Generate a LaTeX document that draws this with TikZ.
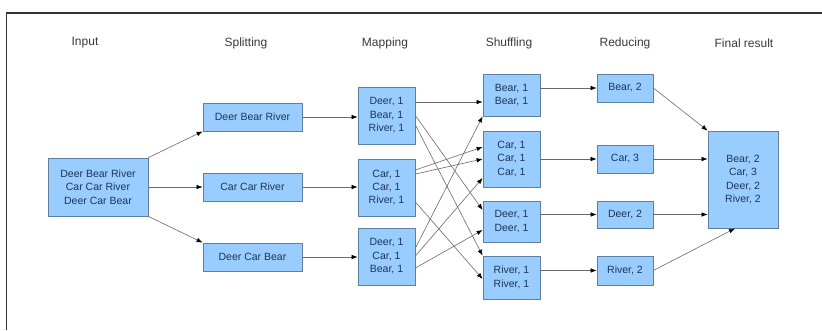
\documentclass[tikz,border=0pt]{standalone}
\usepackage{fontspec}
\setmainfont{Liberation Sans}
\usetikzlibrary{arrows.meta}
\definecolor{boxfill}{HTML}{99CCFF}
\definecolor{boxline}{HTML}{5F7F9F}
\definecolor{boxtext}{HTML}{1E3556}
\definecolor{titletext}{HTML}{3A3A3A}
\definecolor{arrowline}{HTML}{6A6A6A}
\tikzset{
  box/.style={draw=boxline, fill=boxfill, line width=0.8pt, inner sep=0pt, align=center,
    text=boxtext, font=\fontsize{10.5}{13.5}\selectfont},
  title/.style={text=titletext, font=\fontsize{12}{14}\selectfont, inner sep=0pt},
  arr/.style={draw=arrowline, line width=0.6pt, -{Latex[length=6pt,width=4.5pt,fill=black,color=black]}},
  frameline/.style={draw=black!80, line width=1.2pt}
}
\begin{document}
\begin{tikzpicture}[x=1pt,y=-1pt]
\useasboundingbox (0,0) rectangle (822,330);
\fill[white] (0,0) rectangle (822,330);
% frame (top and left edges)
\coordinate (fa) at (822,13);
\coordinate (fb) at (6.5,13);
\coordinate (fc) at (6.5,330);
\draw[frameline] (fa) -- (fb) -- (fc);
% titles
\node[title] (t1) at (85,43) {Input};
\node[title] (t2) at (246,43) {Splitting};
\node[title] (t3) at (385,43) {Mapping};
\node[title] (t4) at (509,43) {Shuffling};
\node[title] (t5) at (625,43) {Reducing};
\node[title] (t6) at (744,43) {Final result};
% input
\node[box, minimum width=100pt, minimum height=58pt] (in) at (98,187) {Deer Bear River\\Car Car River\\Deer Car Bear};
% splitting
\node[box, minimum width=99pt, minimum height=28pt] (sp1) at (252.5,117) {Deer Bear River};
\node[box, minimum width=99pt, minimum height=28pt] (sp2) at (252.5,187) {Car Car River};
\node[box, minimum width=99pt, minimum height=28pt] (sp3) at (252.5,257) {Deer Car Bear};
% mapping
\node[box, minimum width=57pt, minimum height=57pt] (m1) at (386.5,115.5) {Deer, 1\\Bear, 1\\River, 1};
\node[box, minimum width=57pt, minimum height=57pt] (m2) at (386.5,187.5) {Car, 1\\Car, 1\\River, 1};
\node[box, minimum width=57pt, minimum height=57pt] (m3) at (386.5,256.5) {Deer, 1\\Car, 1\\Bear, 1};
% shuffling
\node[box, minimum width=57pt, minimum height=42pt] (s1) at (511.5,95) {Bear, 1\\Bear, 1};
\node[box, minimum width=57pt, minimum height=56pt] (s2) at (511.5,159) {Car, 1\\Car, 1\\Car, 1};
\node[box, minimum width=57pt, minimum height=41pt] (s3) at (511.5,221.5) {Deer, 1\\Deer, 1};
\node[box, minimum width=57pt, minimum height=43pt] (s4) at (511.5,277.5) {River, 1\\River, 1};
% reducing
\node[box, minimum width=56pt, minimum height=28pt] (r1) at (625,88) {Bear, 2};
\node[box, minimum width=56pt, minimum height=28pt] (r2) at (625,159) {Car, 3};
\node[box, minimum width=56pt, minimum height=27pt] (r3) at (625,214.5) {Deer, 2};
\node[box, minimum width=56pt, minimum height=29pt] (r4) at (625,270.5) {River, 2};
% final
\node[box, minimum width=70pt, minimum height=97pt] (f) at (743,179.5) {Bear, 2\\Car, 3\\Deer, 2\\River, 2};
% input -> splitting
\draw[arr] (in.north east) -- (sp1.south west);
\draw[arr] (in.east) -- (sp2.west);
\draw[arr] (in.south east) -- (sp3.north west);
% splitting -> mapping
\draw[arr] (sp1.east) -- (m1.west |- sp1.east);
\draw[arr] (sp2.east) -- (m2.west |- sp2.east);
\draw[arr] (sp3.east) -- (m3.west |- sp3.east);
% mapping -> shuffling
\draw[arr] ([yshift=13.5pt]m1.east) -- ([yshift=-7pt]s1.west);
\draw[arr] ([yshift=0pt]m1.east) -- ([yshift=11.5pt]s3.west);
\draw[arr] ([yshift=-9.5pt]m1.east) -- (s4.north west);
\draw[arr] ([yshift=17.5pt]m2.east) -- ([yshift=12pt]s2.west);
\draw[arr] ([yshift=13.5pt]m2.east) -- (s2.west);
\draw[arr] ([yshift=-14.5pt]m2.east) -- ([yshift=-1.5pt]s4.west);
\draw[arr] ([yshift=8.5pt]m3.east) -- (s1.south west);
\draw[arr] ([yshift=0.5pt]m3.east) -- ([yshift=-19pt]s2.west);
\draw[arr] ([yshift=-11.5pt]m3.east) -- ([yshift=-8.5pt]s3.west);
% shuffling -> reducing
\draw[arr] (s1.east |- r1.west) -- (r1.west);
\draw[arr] (s2.east |- r2.west) -- (r2.west);
\draw[arr] (s3.east |- r3.west) -- (r3.west);
\draw[arr] (s4.east |- r4.west) -- (r4.west);
% reducing -> final
\draw[arr] (r1.east) -- (f.north west);
\draw[arr] (r2.east) -- (f.west |- r2.east);
\draw[arr] (r3.east) -- (f.west |- r3.east);
\draw[arr] (r4.east) -- ([xshift=-8pt]f.south);
\end{tikzpicture}
\end{document}
